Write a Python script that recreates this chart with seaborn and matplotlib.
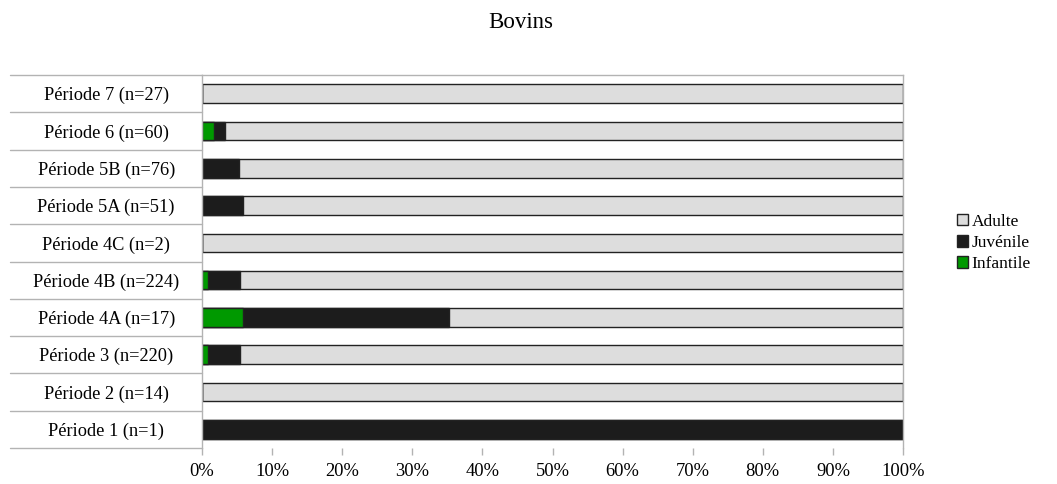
import matplotlib
matplotlib.use("Agg")
import matplotlib.pyplot as plt
import matplotlib.transforms as mtransforms
from matplotlib.patches import Patch
import seaborn as sns
import pandas as pd
import numpy as np

categories = ["Période 7 (n=27)", "Période 6 (n=60)", "Période 5B (n=76)", "Période 5A (n=51)",
              "Période 4C (n=2)", "Période 4B (n=224)", "Période 4A (n=17)", "Période 3 (n=220)",
              "Période 2 (n=14)", "Période 1 (n=1)"]
infantile = [0.0, 1.67, 0.0, 0.0, 0.0, 0.89, 5.88, 0.91, 0.0, 0.0]
juvenile = [0.0, 1.67, 5.26, 5.88, 0.0, 4.46, 29.41, 4.55, 0.0, 100.0]
adulte = [100.0, 96.66, 94.74, 94.12, 100.0, 94.65, 64.71, 94.54, 100.0, 0.0]
xticks = list(range(0, 101, 10))
xticklabels = [f"{t}%" for t in xticks]
series_names = ["Adulte", "Juvénile", "Infantile"]
colors = {"Adulte": "#dddddd", "Juvénile": "#1c1c1c", "Infantile": "#009900"}

sns.set_style("white")
plt.rcParams["font.family"] = ["Liberation Serif", "DejaVu Serif"]
plt.rcParams["text.color"] = "black"
plt.rcParams["xtick.labelcolor"] = "black"
plt.rcParams["ytick.labelcolor"] = "black"

df = pd.DataFrame({"cat": categories, "inf": infantile, "juv": juvenile, "adu": adulte})
df["c_juv"] = df["inf"] + df["juv"]
df["c_adu"] = df["c_juv"] + df["adu"]

fig = plt.figure(figsize=(10.57, 4.84), dpi=100)
ax = fig.add_axes([202/1057, 1-448/484, 701/1057, 373/484])

edge = "#222222"
for col, name in [("c_adu", "Adulte"), ("c_juv", "Juvénile"), ("inf", "Infantile")]:
    sns.barplot(data=df, x=col, y="cat", order=categories, orient="h", color=colors[name],
                saturation=1, width=0.5, edgecolor=edge, linewidth=1, ax=ax)

ax.set_xlim(0, 100)
ax.set_ylim(len(categories) - 0.5, -0.5)
ax.set_xlabel("")
ax.set_ylabel("")
ax.set_xticks(xticks)
ax.set_xticklabels(xticklabels, fontsize=13.3, color="black")
for s in ["left", "right", "top"]:
    ax.spines[s].set_color("#b3b3b3")
    ax.spines[s].set_linewidth(1)
ax.spines["bottom"].set_visible(False)
ax.tick_params(axis="x", direction="out", length=5, width=1, color="#b3b3b3", pad=6, bottom=True)
ax.tick_params(axis="y", length=0, pad=69)
for lbl in ax.get_yticklabels():
    lbl.set_horizontalalignment("center")
    lbl.set_fontsize(13.2)
    lbl.set_color("black")

trans = mtransforms.blended_transform_factory(ax.transAxes, ax.transData)
for b in np.arange(-0.5, len(categories), 1.0):
    ax.plot([-192/701, 0], [b, b], color="#b3b3b3", lw=1, transform=trans, clip_on=False)

fig.text(521/1057, 1-22/484, "Bovins", ha="center", va="center", fontsize=16.5, color="black")

handles = [Patch(facecolor=colors[n], edgecolor=edge, linewidth=1) for n in series_names]
leg = fig.legend(handles, series_names, loc="center left", bbox_to_anchor=(957/1057, 1-243/484),
                 frameon=False, fontsize=12.5, handlelength=0.65, handleheight=0.65,
                 handletextpad=0.2, labelspacing=0.3, borderaxespad=0, borderpad=0)
for t in leg.get_texts():
    t.set_color("black")

fig.savefig("out.png", dpi=100)
